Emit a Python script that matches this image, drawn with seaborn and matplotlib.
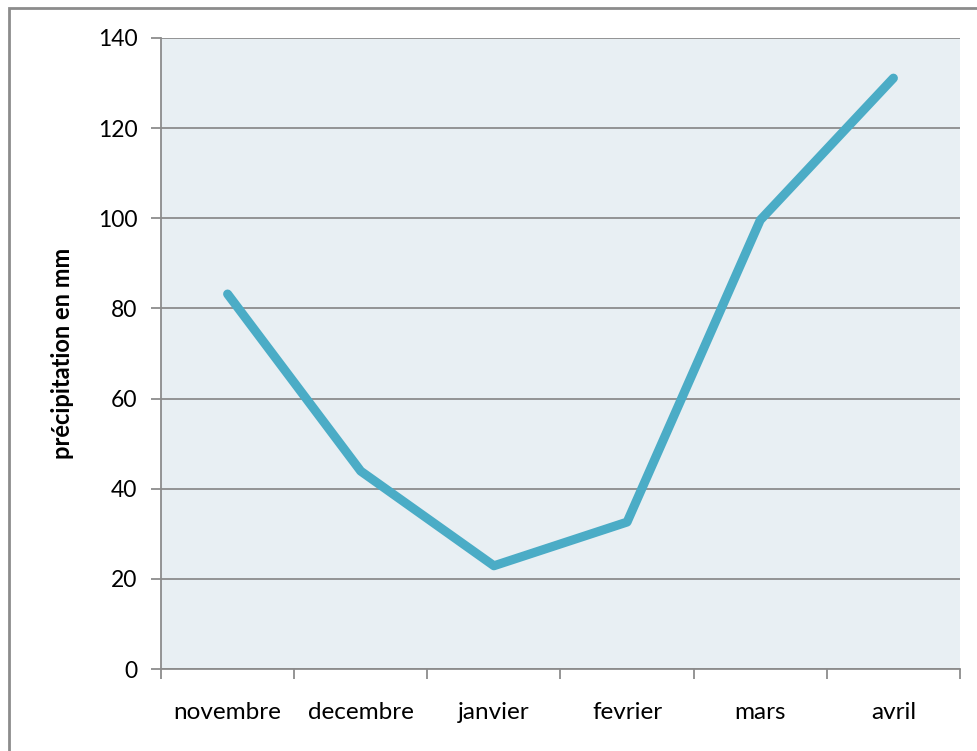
import matplotlib
matplotlib.use("Agg")
import matplotlib.pyplot as plt
import seaborn as sns
import pandas as pd
from matplotlib.patches import Rectangle

months = ["novembre", "decembre", "janvier", "fevrier", "mars", "avril"]
precip = [83.2, 43.9, 22.9, 32.6, 99.6, 131.1]
yticks = [0, 20, 40, 60, 80, 100, 120, 140]
ylabel = "précipitation en mm"

sns.set_theme(style="white")
plt.rcParams['font.family'] = ['Lato', 'DejaVu Sans']
plt.rcParams['text.color'] = 'black'
plt.rcParams['xtick.labelcolor'] = 'black'
plt.rcParams['ytick.labelcolor'] = 'black'
plt.rcParams['axes.labelcolor'] = 'black'

W, H = 978, 751
fig = plt.figure(figsize=(W/100, H/100), dpi=100)
ax = fig.add_axes([161/W, 1-669/H, (960-161)/W, (669-38)/H])
ax.set_facecolor("#E8EFF3")

df = pd.DataFrame({"mois": months, "p": precip})
sns.lineplot(data=df, x="mois", y="p", ax=ax, color="#4BACC6", linewidth=6.5,
             solid_capstyle="round", solid_joinstyle="round", sort=False)

ax.set_ylim(0, 140)
ax.set_xlim(-0.5, len(months)-0.5)
ax.set_yticks(yticks)
ax.set_yticklabels([str(v) for v in yticks], fontsize=16.5, color="black")
ax.yaxis.grid(True, color="#8C8C8C", linewidth=1.3)
ax.set_axisbelow(True)
ax.set_xticks(range(len(months)))
ax.set_xticklabels(months, fontsize=17.5, color="black")
ax.set_xticks([i-0.5 for i in range(len(months)+1)], minor=True)
ax.tick_params(axis="x", which="major", length=0, pad=24)
ax.tick_params(axis="x", which="minor", length=7, width=1.3, color="#8C8C8C", direction="out", bottom=True)
ax.tick_params(axis="y", length=7, width=1.3, color="#8C8C8C", direction="out", left=True, pad=10)
ax.set_xlabel("")
ax.set_ylabel(ylabel, fontsize=17, fontweight="bold", labelpad=17, color="black")

for s in ["top", "right"]:
    ax.spines[s].set_visible(False)
for s in ["left", "bottom"]:
    ax.spines[s].set_color("#8C8C8C")
    ax.spines[s].set_linewidth(1.3)

fig.patches.append(Rectangle((9/W, -0.1), 1.2, 1-8/H+0.1, transform=fig.transFigure,
                             fill=False, edgecolor="#8C8C8C", linewidth=2))

fig.savefig("out.png", dpi=100)
